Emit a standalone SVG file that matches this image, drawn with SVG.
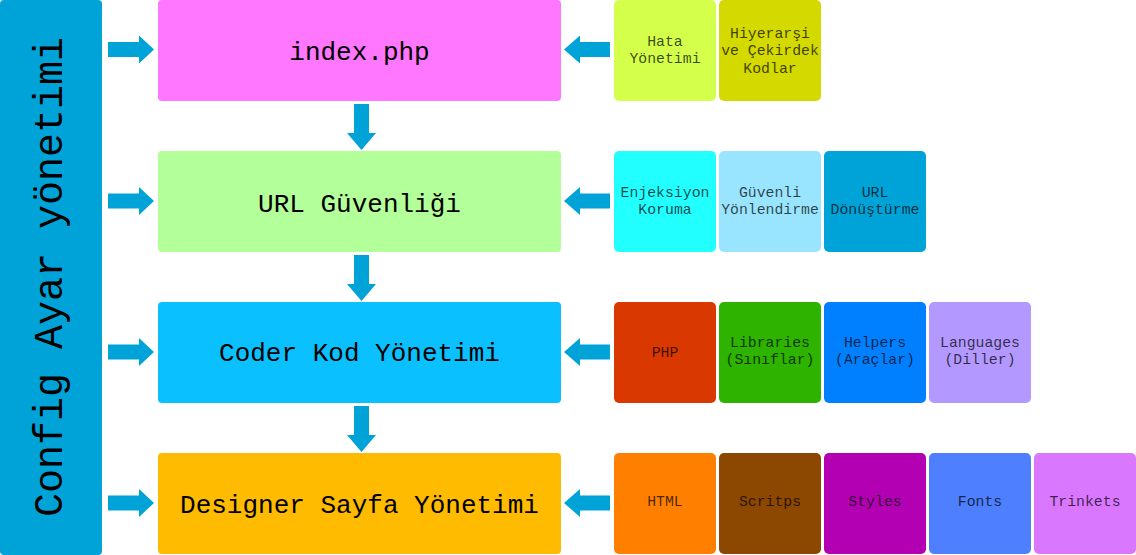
<svg xmlns="http://www.w3.org/2000/svg" width="1136" height="555" viewBox="0 0 1136 555">
<style>
.main{font-family:"Liberation Mono","Courier New",monospace;font-size:26px;fill:#000;text-anchor:middle}
.sm{font-family:"Liberation Mono","Courier New",monospace;font-size:14.8px;fill:#000;fill-opacity:0.72;text-anchor:middle}
.cfg{font-family:"Liberation Mono","Courier New",monospace;font-size:40px;fill:#000;text-anchor:middle}
.arr{fill:#00A3D8}
</style>
<defs>
<path id="ar" d="M108,-7.5 H139 V-14 L154,0 L139,14 V7.5 H108 Z"/>
<path id="al" d="M610,-7.5 H580 V-14 L564,0 L580,14 V7.5 H610 Z"/>
<path id="ad" d="M354,0 H369 V29 H376 L361.5,46 L347,29 H354 Z"/>
</defs>
<rect width="1136" height="555" fill="#fff"/>

<g id="config">
<rect x="0" y="0" width="102" height="555" rx="4" fill="#00A3D8"/>
<text class="cfg" transform="translate(62,277) rotate(-90)">Config Ayar yönetimi</text>
</g>

<g id="connectors" class="arr">
<use href="#ar" y="49.5"/>
<use href="#ar" y="201"/>
<use href="#ar" y="352"/>
<use href="#ar" y="503"/>
<use href="#al" y="49.5"/>
<use href="#al" y="201"/>
<use href="#al" y="352"/>
<use href="#al" y="503"/>
<use href="#ad" y="104"/>
<use href="#ad" y="255"/>
<use href="#ad" y="406"/>
</g>

<g id="index">
<rect x="158" y="0" width="403" height="101" rx="4" fill="#FF77FF"/>
<text class="main" x="359.5" y="60">index.php</text>
</g>
<g id="url">
<rect x="158" y="151" width="403" height="101" rx="4" fill="#B3FF99"/>
<text class="main" x="359.5" y="212">URL Güvenliği</text>
</g>
<g id="coder">
<rect x="158" y="302" width="403" height="101" rx="4" fill="#0BC0FF"/>
<text class="main" x="359.5" y="361">Coder Kod Yönetimi</text>
</g>
<g id="designer">
<rect x="158" y="453" width="403" height="101" rx="4" fill="#FFBB00"/>
<text class="main" x="359.5" y="513">Designer Sayfa Yönetimi</text>
</g>

<g id="hata">
<rect x="614" y="0" width="102" height="101" rx="5" fill="#D4FF4A"/>
<text class="sm" x="665" y="46">Hata</text>
<text class="sm" x="665" y="63">Yönetimi</text>
</g>
<g id="hiyerarsi">
<rect x="719" y="0" width="102" height="101" rx="5" fill="#D4D900"/>
<text class="sm" x="770" y="37.5">Hiyerarşi</text>
<text class="sm" x="770" y="55">ve Çekirdek</text>
<text class="sm" x="770" y="72.5">Kodlar</text>
</g>

<g id="enjeksiyon">
<rect x="614" y="151" width="102" height="101" rx="5" fill="#22FFFF"/>
<text class="sm" x="665" y="197">Enjeksiyon</text>
<text class="sm" x="665" y="214">Koruma</text>
</g>
<g id="guvenli">
<rect x="719" y="151" width="102" height="101" rx="5" fill="#99E5FF"/>
<text class="sm" x="770" y="197">Güvenli</text>
<text class="sm" x="770" y="214">Yönlendirme</text>
</g>
<g id="urldonusturme">
<rect x="824" y="151" width="102" height="101" rx="5" fill="#00A3D8"/>
<text class="sm" x="875" y="197">URL</text>
<text class="sm" x="875" y="214">Dönüştürme</text>
</g>

<g id="php">
<rect x="614" y="302" width="102" height="101" rx="5" fill="#D93800"/>
<text class="sm" x="665" y="357">PHP</text>
</g>
<g id="libraries">
<rect x="719" y="302" width="102" height="101" rx="5" fill="#2DB300"/>
<text class="sm" x="770" y="347">Libraries</text>
<text class="sm" x="770" y="364">(Sınıflar)</text>
</g>
<g id="helpers">
<rect x="824" y="302" width="102" height="101" rx="5" fill="#0080FF"/>
<text class="sm" x="875" y="347">Helpers</text>
<text class="sm" x="875" y="364">(Araçlar)</text>
</g>
<g id="languages">
<rect x="929" y="302" width="102" height="101" rx="5" fill="#B399FF"/>
<text class="sm" x="980" y="347">Languages</text>
<text class="sm" x="980" y="364">(Diller)</text>
</g>

<g id="html">
<rect x="614" y="453" width="102" height="101" rx="5" fill="#FF8000"/>
<text class="sm" x="665" y="506">HTML</text>
</g>
<g id="scritps">
<rect x="719" y="453" width="102" height="101" rx="5" fill="#8C4800"/>
<text class="sm" x="770" y="506">Scritps</text>
</g>
<g id="styles">
<rect x="824" y="453" width="102" height="101" rx="5" fill="#B300B3"/>
<text class="sm" x="875" y="506">Styles</text>
</g>
<g id="fonts">
<rect x="929" y="453" width="102" height="101" rx="5" fill="#4D7FFF"/>
<text class="sm" x="980" y="506">Fonts</text>
</g>
<g id="trinkets">
<rect x="1034" y="453" width="102" height="101" rx="5" fill="#D977FF"/>
<text class="sm" x="1085" y="506">Trinkets</text>
</g>
</svg>
